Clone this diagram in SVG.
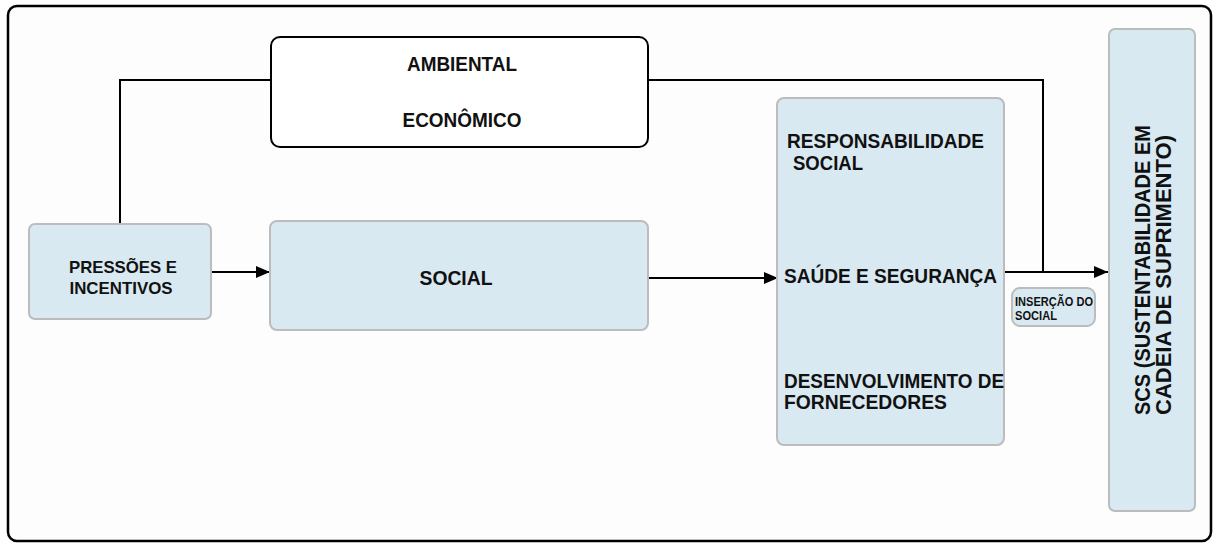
<svg xmlns="http://www.w3.org/2000/svg" width="1213" height="545" viewBox="0 0 1213 545">
<defs>
<marker id="ah" markerWidth="14" markerHeight="12" refX="14" refY="6" orient="auto" markerUnits="userSpaceOnUse">
<path d="M0,0 L14,6 L0,12 Z" fill="#000"/>
</marker>
<style>
.blue{fill:#d8e9f2;stroke:#bcbcbc;stroke-width:2}
.white{fill:#fff;stroke:#000;stroke-width:2}
.t{font-family:"Liberation Sans",Arial,sans-serif;font-weight:bold;fill:#111}
.c{stroke:#000;stroke-width:2;fill:none}
</style>
</defs>
<rect x="0" y="0" width="1213" height="545" fill="#fff"/>
<rect id="frame" x="8" y="6" width="1203" height="535" rx="9" fill="#fdfdfd" stroke="#000" stroke-width="2.5"/>

<g id="connectors">
<path class="c" d="M120,224 V80 H271"/>
<path class="c" d="M648,80 H1043 V272"/>
<path class="c" d="M211,272 H270" marker-end="url(#ah)"/>
<path class="c" d="M648,278 H778" marker-end="url(#ah)"/>
<path class="c" d="M1004,272 H1108" marker-end="url(#ah)"/>
</g>

<g id="ambiental-economico">
<rect class="white" x="271" y="37" width="377" height="110" rx="9"/>
<text class="t" x="462" y="71" font-size="19.5" text-anchor="middle" textLength="110" lengthAdjust="spacingAndGlyphs">AMBIENTAL</text>
<text class="t" x="462" y="127" font-size="19.5" text-anchor="middle" textLength="119" lengthAdjust="spacingAndGlyphs">ECONÔMICO</text>
</g>

<g id="pressoes">
<rect class="blue" x="29" y="224" width="182" height="95" rx="6"/>
<text class="t" x="123" y="273" font-size="17" text-anchor="middle" textLength="108" lengthAdjust="spacingAndGlyphs">PRESSÕES E</text>
<text class="t" x="121" y="294" font-size="17" text-anchor="middle" textLength="103" lengthAdjust="spacingAndGlyphs">INCENTIVOS</text>
</g>

<g id="social">
<rect class="blue" x="270" y="221" width="378" height="109" rx="7"/>
<text class="t" x="456" y="285" font-size="19.5" text-anchor="middle" textLength="73" lengthAdjust="spacingAndGlyphs">SOCIAL</text>
</g>

<g id="dimensoes">
<rect class="blue" x="777" y="98" width="227" height="347" rx="7"/>
<text class="t" x="787" y="148" font-size="20.5" textLength="197" lengthAdjust="spacingAndGlyphs">RESPONSABILIDADE</text>
<text class="t" x="793" y="170" font-size="20.5" textLength="70" lengthAdjust="spacingAndGlyphs">SOCIAL</text>
<text class="t" x="784" y="283" font-size="20.5" textLength="213" lengthAdjust="spacingAndGlyphs">SAÚDE E SEGURANÇA</text>
<text class="t" x="784" y="388" font-size="20.5" textLength="220" lengthAdjust="spacingAndGlyphs">DESENVOLVIMENTO DE</text>
<text class="t" x="784" y="409" font-size="20.5" textLength="163" lengthAdjust="spacingAndGlyphs">FORNECEDORES</text>
</g>

<g id="insercao">
<rect class="blue" x="1012" y="288" width="83" height="38" rx="8"/>
<text class="t" x="1015" y="306" font-size="12" textLength="78" lengthAdjust="spacingAndGlyphs">INSERÇÃO DO</text>
<text class="t" x="1015" y="320" font-size="12" textLength="42" lengthAdjust="spacingAndGlyphs">SOCIAL</text>
</g>

<g id="scs">
<rect class="blue" x="1109" y="29" width="86" height="482" rx="6"/>
<text class="t" font-size="21.5" transform="translate(1150,415) rotate(-90)"><tspan x="0" y="0" textLength="290" lengthAdjust="spacingAndGlyphs">SCS (SUSTENTABILIDADE EM</tspan></text>
<text class="t" font-size="21.5" transform="translate(1171,415) rotate(-90)"><tspan x="0" y="0" textLength="280" lengthAdjust="spacingAndGlyphs">CADEIA DE SUPRIMENTO)</tspan></text>
</g>
</svg>
